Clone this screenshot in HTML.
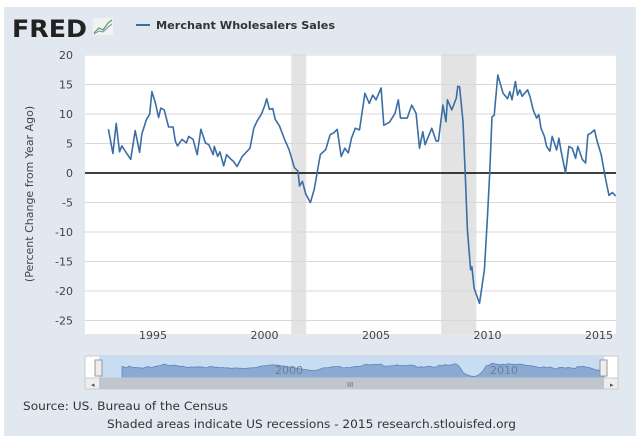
<!DOCTYPE html>
<html><head><meta charset="utf-8"><style>
body{margin:0;width:640px;height:441px;background:#fff;overflow:hidden;font-family:"DejaVu Sans","Liberation Sans",sans-serif;}
#wrap{position:absolute;left:4px;top:7px;width:632px;height:429px;background:#e1e8f0;}
</style></head><body>
<div id="wrap"></div>
<svg id="svg" width="640" height="441" style="position:absolute;left:0;top:0;font-family:'DejaVu Sans','Liberation Sans',sans-serif">
<text x="12" y="37" font-size="24" font-weight="bold" fill="#222" font-family="DejaVu Sans,sans-serif" textLength="75" lengthAdjust="spacingAndGlyphs">FRED</text>
<g><rect x="93" y="18" width="20" height="17" fill="#f0f3f0"/><polyline points="94,33 99,28 103,30 108,23 112,20" fill="none" stroke="#5a9a5a" stroke-width="1.2"/><polyline points="94,34 99,31 103,32 108,27 112,24" fill="none" stroke="#6a8ac0" stroke-width="1"/></g>
<line x1="136" y1="25" x2="150" y2="25" stroke="#3b6ea5" stroke-width="2"/>
<text x="156" y="29" font-size="11" font-weight="bold" fill="#333" textLength="179" lengthAdjust="spacingAndGlyphs">Merchant Wholesalers Sales</text>
<rect x="85" y="54" width="531" height="280" fill="#fff"/>
<g id="rec"></g><g id="grid"></g><g id="yt"></g><g id="xt"></g>
<path id="line" fill="none" stroke="#3b6ea5" stroke-width="1.6" stroke-linejoin="round"/>
<text transform="translate(33,194) rotate(-90)" text-anchor="middle" font-size="11" fill="#444">(Percent Change from Year Ago)</text>
<g>
<rect x="85" y="356" width="533" height="29" fill="#fff" stroke="#ccc"/>
<rect x="99" y="356" width="505" height="22" fill="#c8dcf2"/>
<path id="nav" fill="#8aaad3" stroke="#5c84b8" stroke-width="0.8"/>
<text x="275" y="374" font-size="11" fill="#6f7f90">2000</text>
<text x="490" y="374" font-size="11" fill="#6f7f90">2010</text>
<rect x="95" y="360" width="7" height="16" fill="#eee" stroke="#999"/>
<rect x="600" y="360" width="7" height="16" fill="#eee" stroke="#999"/>
<rect x="85" y="378" width="533" height="11" fill="#eee" stroke="#ccc"/>
<rect x="99" y="378" width="505" height="11" fill="#bfc6ce"/>
<text x="91" y="387" font-size="7" fill="#555">◂</text><text x="610" y="387" font-size="7" fill="#555">▸</text>
<text x="347" y="387" font-size="7" fill="#666">III</text>
</g>
<text x="23" y="410" font-size="11.5" fill="#333" textLength="205" lengthAdjust="spacingAndGlyphs">Source: US. Bureau of the Census</text>
<text x="107" y="428" font-size="11.5" fill="#333" textLength="409" lengthAdjust="spacingAndGlyphs">Shaded areas indicate US recessions - 2015 research.stlouisfed.org</text>
</svg>
<script>
const years=[1993.0,1993.2,1993.35,1993.5,1993.6,1994.0,1994.2,1994.4,1994.5,1994.7,1994.85,1994.95,1995.1,1995.25,1995.35,1995.5,1995.7,1995.9,1996.0,1996.1,1996.3,1996.5,1996.6,1996.8,1996.98,1997.15,1997.35,1997.5,1997.7,1997.75,1997.9,1998.0,1998.17,1998.3,1998.5,1998.6,1998.77,1999.0,1999.15,1999.35,1999.52,1999.67,1999.85,2000.0,2000.1,2000.22,2000.37,2000.48,2000.67,2000.9,2001.1,2001.34,2001.5,2001.57,2001.7,2001.85,2002.06,2002.23,2002.4,2002.5,2002.75,2002.94,2003.1,2003.26,2003.44,2003.6,2003.76,2003.9,2004.07,2004.26,2004.5,2004.7,2004.85,2005.0,2005.23,2005.35,2005.6,2005.85,2006.0,2006.1,2006.4,2006.6,2006.8,2006.95,2007.1,2007.2,2007.5,2007.7,2007.8,2008.0,2008.14,2008.2,2008.4,2008.6,2008.67,2008.75,2008.9,2009.0,2009.1,2009.24,2009.3,2009.4,2009.64,2009.86,2010.0,2010.1,2010.2,2010.3,2010.46,2010.7,2010.9,2011.0,2011.1,2011.25,2011.35,2011.45,2011.55,2011.8,2011.9,2012.05,2012.2,2012.3,2012.4,2012.55,2012.65,2012.8,2012.9,2013.1,2013.2,2013.3,2013.5,2013.65,2013.8,2013.95,2014.05,2014.25,2014.4,2014.5,2014.65,2014.8,2014.9,2015.1,2015.3,2015.45,2015.6,2015.75];
const values=[7.4,3.3,8.4,3.6,4.6,2.3,7.2,3.5,6.6,9,10,13.8,12,9.4,11,10.7,7.8,7.8,5.4,4.6,5.7,5.1,6.2,5.7,3.1,7.4,5.1,4.8,3.1,4.5,2.8,3.6,1.2,3.1,2.3,2.0,1.1,2.8,3.4,4.2,7.6,8.8,9.9,11.3,12.6,10.8,10.9,9.1,8,5.7,4,0.9,0.3,-2.2,-1.4,-3.6,-5,-2.8,0.9,3.1,4,6.5,6.8,7.4,2.8,4.2,3.4,5.9,7.6,7.3,13.5,11.8,13.2,12.4,14.4,8.1,8.6,10.1,12.4,9.3,9.3,11.5,10.1,4.2,7,4.8,7.6,5.4,5.4,11.5,8.7,12.4,10.7,12.7,14.7,14.6,8.7,0,-9.6,-16.4,-15.9,-19.5,-22.1,-16.4,-7.3,0,9.5,9.8,16.6,13.5,12.6,13.8,12.4,15.5,13.2,14.1,13.0,14.1,13.0,10.7,9.3,9.9,7.6,6.2,4.5,3.7,6.2,3.9,5.9,3.7,0,4.5,4.2,2.5,4.5,2.3,1.7,6.5,6.8,7.3,5.6,3.1,-1.1,-3.8,-3.3,-3.9];
const yTicks=[20,15,10,5,0,-5,-10,-15,-20,-25];
const xTicks=[1995,2000,2005,2010,2015];
const recessions=[[2001.2,2001.87],[2007.92,2009.5]];
const X=y=>153+(y-1995)*22.3, Y=v=>173-v*5.9;
const NS="http://www.w3.org/2000/svg";
function mk(t,a,p){const e=document.createElementNS(NS,t);for(const k in a)e.setAttribute(k,a[k]);p.appendChild(e);return e;}
const rec=document.getElementById('rec');
recessions.forEach(r=>{const e=mk('rect',{x:X(r[0]),y:54,width:X(r[1])-X(r[0]),height:280,fill:'#e3e3e3'},rec);

});
const g=document.getElementById('grid'),yt=document.getElementById('yt'),xt=document.getElementById('xt');
yTicks.forEach(v=>{const l=mk('line',{x1:85,x2:616,y1:Y(v),y2:Y(v),stroke:v===0?'#000':'#d8d8d8','stroke-width':v===0?1.5:1},g);


const t=mk('text',{x:73,y:Y(v)+4,'text-anchor':'end','font-size':11,fill:'#444'},yt);t.textContent=v;

});
xTicks.forEach(v=>{const t=mk('text',{x:X(v),y:339,'text-anchor':'middle','font-size':11,fill:'#444'},xt);t.textContent=v;

});
document.getElementById('line').setAttribute('d',years.map((y,i)=>(i?'L':'M')+X(y).toFixed(1)+','+Y(values[i]).toFixed(1)).join(''));
const NX=y=>122+(y-1993)*(604-122)/22.75, NY=v=>369-v*0.35;
document.getElementById('nav').setAttribute('d','M'+NX(years[0])+',378'+years.map((y,i)=>'L'+NX(y).toFixed(1)+','+NY(values[i]).toFixed(1)).join('')+'L'+NX(years[years.length-1])+',378Z');
</script>
</body></html>
